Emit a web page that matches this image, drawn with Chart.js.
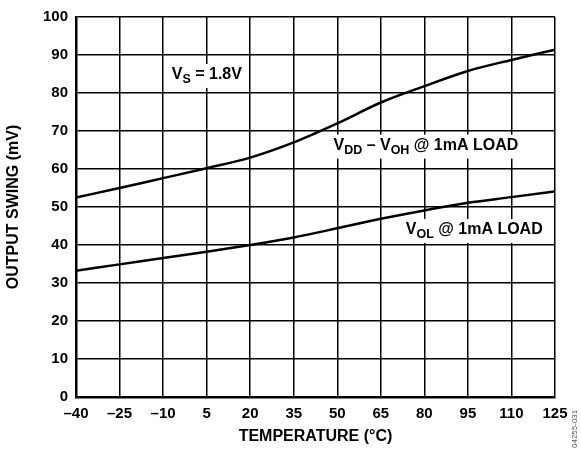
<!DOCTYPE html>
<html><head><meta charset="utf-8">
<script src="https://cdn.jsdelivr.net/npm/chart.js@4/dist/chart.umd.min.js"></script>
<style>html,body{margin:0;padding:0;background:#fff}#wrap{position:relative;width:581px;height:450px}</style>
</head><body><div id="wrap"><canvas id="c" width="581" height="450"></canvas></div>
<script>
const temperatures = [-40, -25, -10, 5, 20, 35, 50, 65, 80, 95, 110, 125];
const vddMinusVoh = [52.5, 55.0, 57.6, 60.2, 63.0, 67.0, 72.0, 77.5, 81.8, 85.8, 88.7, 91.4];
const vol = [33.2, 34.9, 36.6, 38.2, 40.0, 42.0, 44.4, 46.9, 49.1, 51.1, 52.6, 54.1];
const xTicks = [-40, -25, -10, 5, 20, 35, 50, 65, 80, 95, 110, 125];
const yTicks = [0, 10, 20, 30, 40, 50, 60, 70, 80, 90, 100];

const FONT = '"Liberation Sans", Arial, sans-serif';

function drawSubText(ctx, x, y, parts, size) {
  let cx = x;
  for (const [t, sub] of parts) {
    ctx.font = 'bold ' + (sub ? size * 0.78 : size) + 'px ' + FONT;
    ctx.fillText(t, cx, sub ? y + size * 0.28 : y);
    cx += ctx.measureText(t).width;
  }
  return cx - x;
}
function measureSub(ctx, parts, size) {
  let w = 0;
  for (const [t, sub] of parts) {
    ctx.font = 'bold ' + (sub ? size * 0.78 : size) + 'px ' + FONT;
    w += ctx.measureText(t).width;
  }
  return w;
}

const labelsPlugin = {
  id: 'labels',
  afterDatasetsDraw(chart) {
    const ctx = chart.ctx;
    const xs = chart.scales.x, ys = chart.scales.y;
    const items = [
      {x: -7, y: 83.7, parts: [['V', false], ['S', true], [' = 1.8V', false]]},
      {x: 48.7, y: 65.1, parts: [['V', false], ['DD', true], [' – V', false], ['OH', true], [' @ 1mA LOAD', false]]},
      {x: 73.6, y: 42.9, parts: [['V', false], ['OL', true], [' @ 1mA LOAD', false]]}
    ];
    ctx.save();
    ctx.textBaseline = 'alphabetic';
    for (const it of items) {
      const px = xs.getPixelForValue(it.x), py = ys.getPixelForValue(it.y);
      const size = 16;
      const w = measureSub(ctx, it.parts, size);
      ctx.fillStyle = '#fff';
      ctx.fillRect(px - 4, py - 15, w + 8, 24);
      ctx.fillStyle = '#000';
      drawSubText(ctx, px, py, it.parts, size);
    }
    ctx.translate(577, 448);
    ctx.rotate(-Math.PI / 2);
    ctx.font = '8px ' + FONT;
    ctx.fillStyle = '#555';
    ctx.fillText('04255-031', 0, 0);
    ctx.restore();
  }
};

new Chart(document.getElementById('c'), {
  type: 'line',
  data: {
    datasets: [
      {label: 'VDD – VOH @ 1mA LOAD', data: temperatures.map((t, i) => ({x: t, y: vddMinusVoh[i]})),
       borderColor: '#000', borderWidth: 2.5, pointRadius: 0, cubicInterpolationMode: 'monotone', fill: false},
      {label: 'VOL @ 1mA LOAD', data: temperatures.map((t, i) => ({x: t, y: vol[i]})),
       borderColor: '#000', borderWidth: 2.5, pointRadius: 0, cubicInterpolationMode: 'monotone', fill: false}
    ]
  },
  options: {
    responsive: false,
    animation: false,
    devicePixelRatio: 1,
    layout: {padding: {top: 15, right: 26, left: 0, bottom: 0}},
    plugins: {legend: {display: false}, tooltip: {enabled: false}},
    scales: {
      x: {
        type: 'linear', min: -40, max: 125,
        afterBuildTicks(s) { s.ticks = xTicks.map(v => ({value: v})); },
        afterFit(s) { s.height = 53; },
        grid: {color: '#000', lineWidth: 1.5, drawTicks: false},
        border: {color: '#000', width: 2.5},
        ticks: {color: '#000', font: {family: FONT, size: 15, weight: 'bold'}, padding: 8, maxRotation: 0, autoSkip: false,
                callback: v => (v < 0 ? '\u2013' + Math.abs(v) : String(v))},
        title: {display: true, text: 'TEMPERATURE (°C)', color: '#000', font: {family: FONT, size: 16, weight: 'bold'}, padding: {top: 0}}
      },
      y: {
        type: 'linear', min: 0, max: 100,
        afterBuildTicks(s) { s.ticks = yTicks.map(v => ({value: v})); },
        afterFit(s) { s.width = 76; },
        grid: {color: '#000', lineWidth: 1.5, drawTicks: false},
        border: {color: '#000', width: 2.5},
        ticks: {color: '#000', font: {family: FONT, size: 15, weight: 'bold'}, padding: 8},
        title: {display: true, text: 'OUTPUT SWING (mV)', color: '#000', font: {family: FONT, size: 16, weight: 'bold'}, padding: {bottom: 4}}
      }
    }
  },
  plugins: [labelsPlugin]
});
</script></body></html>
